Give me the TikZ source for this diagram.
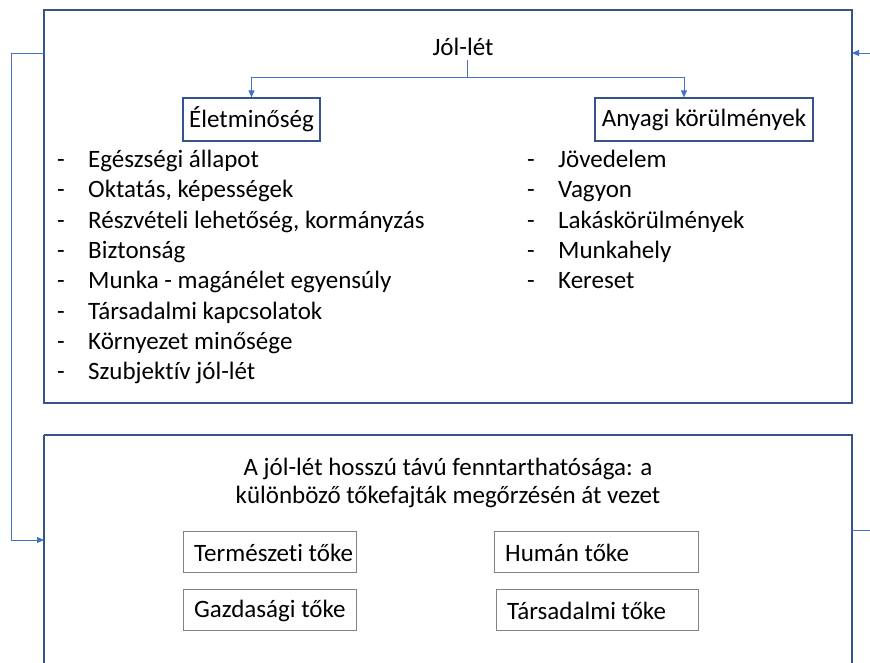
\documentclass[tikz,border=0pt]{standalone}
\usepackage{fontspec}
\setmainfont{Carlito}[Ligatures=NoCommon]
\usetikzlibrary{arrows.meta}
\definecolor{boxblue}{RGB}{52,84,138}
\definecolor{linkblue}{RGB}{68,114,196}
\definecolor{capgray}{RGB}{125,130,140}
\newcommand{\dfont}{\fontsize{25}{29}\selectfont}
\tikzset{
  bigbox/.style={draw=boxblue, line width=1.6pt},
  subbox/.style={draw=boxblue, line width=1.2pt, inner sep=0pt, minimum height=43pt, font=\dfont},
  capbox/.style={draw=capgray, line width=0.9pt, inner sep=0pt, minimum height=41pt, anchor=north west},
  captxt/.style={font=\dfont, inner sep=0pt, anchor=west},
  link/.style={draw=linkblue, line width=0.9pt, -{Triangle[length=7pt,width=6pt]}},
  plain/.style={draw=linkblue, line width=0.9pt},
  txt/.style={font=\dfont, inner sep=0pt, anchor=base west},
  ctxt/.style={font=\dfont, inner sep=0pt, anchor=base},
  dashtxt/.style={font=\dfont, inner sep=0pt, anchor=base}
}
\begin{document}
\begin{tikzpicture}[x=1pt,y=-1pt]
\useasboundingbox (0,0) rectangle (870,662);
% main boxes
\draw[bigbox] (44,10) rectangle (852,403);
\draw[bigbox] (44,435) -- (44,675) (852,675) -- (852,435) -- (44,435);
\coordinate (topL) at (44,53);
\coordinate (botL) at (44,540);
\coordinate (topR) at (852,53);
\coordinate (rin) at (870,53);
\coordinate (botR) at (852,530);
\coordinate (rout) at (870,530);
% title
\node[ctxt] (jol) at (463,55) {Jól-lét};
\node[subbox, minimum width=137pt] (elet) at (251.5,119.5) {Életminőség};
\node[subbox, minimum width=218pt] (anyagi) at (704,119.5) {Anyagi körülmények};
\coordinate (jolfoot) at (467,60);
\coordinate (split) at (467,77);
\draw[plain] (jolfoot) -- (split);
\draw[link] (split) -| (elet.north);
\draw[link] (split) -| ([xshift=-20pt]anyagi.north);
% left list
\foreach \t [count=\i from 0] in {{Egészségi állapot},{Oktatás, képességek},{Részvételi lehetőség, kormányzás},{Biztonság},{Munka - magánélet egyensúly},{Társadalmi kapcsolatok},{Környezet minősége},{Szubjektív jól-lét}}{
  \node[dashtxt] (ld\i) at (61,167.5+30.3*\i) {-};
  \node[txt] (l\i) at (88,167.5+30.3*\i) {\t};
}
\foreach \t [count=\i from 0] in {Jövedelem,Vagyon,Lakáskörülmények,Munkahely,Kereset}{
  \node[dashtxt] (rd\i) at (531,167.5+30.3*\i) {-};
  \node[txt] (r\i) at (558,167.5+30.3*\i) {\t};
}
% bottom text
\node[ctxt] (sust1) at (448,475) {A jól-lét hosszú távú fenntarthatósága: a};
\node[ctxt] (sust2) at (448,503) {különböző tőkefajták megőrzésén át vezet};
\node[capbox, minimum width=173pt] (term) at (183,531) {};
\node[capbox, minimum width=204pt] (human) at (494,531) {};
\node[capbox, minimum width=173pt] (gazd) at (183,589) {};
\node[capbox, minimum width=202pt] (tars) at (496,589) {};
\node[captxt] (termt) at ([xshift=11pt,yshift=-1pt]term.west) {Természeti tőke};
\node[captxt] (humant) at ([xshift=11pt,yshift=-1pt]human.west) {Humán tőke};
\node[captxt] (gazdt) at ([xshift=11pt,yshift=-1pt]gazd.west) {Gazdasági tőke};
\node[captxt] (tarst) at ([xshift=11pt,yshift=-1pt]tars.west) {Társadalmi tőke};
% feedback connectors
\draw[link] (topL) -- (11,53) -- (11,540) -- (botL);
\draw[link] (rin) -- (topR);
\draw[plain] (botR) -- (rout);
\end{tikzpicture}
\end{document}
